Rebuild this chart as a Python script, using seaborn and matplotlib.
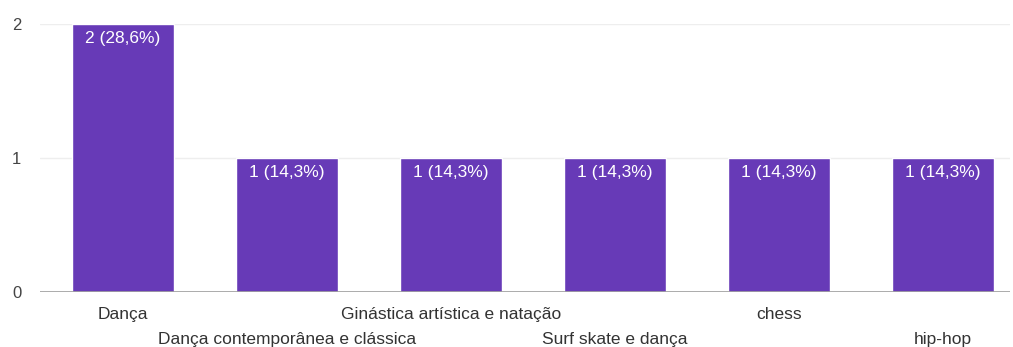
import pandas as pd
import seaborn as sns
import matplotlib.pyplot as plt

# Data
categories = ['Dança', 'Dança contemporânea e clássica', 'Ginástica artística e natação',
              'Surf skate e dança', 'chess', 'hip-hop']
counts = [2, 1, 1, 1, 1, 1]
percents = ['28,6%', '14,3%', '14,3%', '14,3%', '14,3%', '14,3%']

df = pd.DataFrame({'activity': categories, 'count': counts})

sns.set_style('white')
plt.rcParams['font.family'] = ['Liberation Sans', 'DejaVu Sans']

fig = plt.figure(figsize=(10.13, 3.47), dpi=100)
ax = fig.add_axes([40 / 1013, 55 / 347, 970 / 1013, 268 / 347])

sns.barplot(data=df, x='activity', y='count', color='#673ab7', saturation=1,
            width=0.62, ax=ax, zorder=3)

# value labels inside the top of each bar
for i, (c, p) in enumerate(zip(counts, percents)):
    ax.text(i, c - 0.055, f'{c} ({p})', ha='center', va='top',
            color='white', fontsize=12.5, zorder=4)

ax.set_xlim(-0.506, 5.41)
ax.set_ylim(0, 2)
ax.set_yticks([0, 1, 2])
ax.yaxis.grid(True, color='#eeeeee', linewidth=1, zorder=0)
ax.axhline(0, color='#9e9e9e', linewidth=1.2, zorder=5)

for s in ax.spines.values():
    s.set_visible(False)

ax.set_xlabel('')
ax.set_ylabel('')
ax.tick_params(axis='y', length=0, pad=20, labelsize=12, labelcolor='#444444')
ax.tick_params(axis='x', length=0, labelsize=12.5, labelcolor='#333333')
for lab in ax.get_yticklabels():
    lab.set_horizontalalignment('left')

# stagger the x labels on two rows
ax.set_xticks(range(len(categories)))
ax.set_xticklabels(categories)
for i, tick in enumerate(ax.xaxis.get_major_ticks()):
    tick.set_pad(11 if i % 2 == 0 else 28.5)

fig.savefig('out.png', dpi=100)
